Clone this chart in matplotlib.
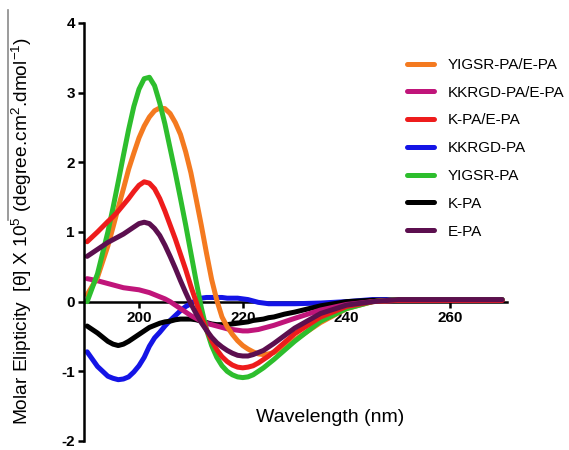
import matplotlib

matplotlib.use("Agg")
import matplotlib.pyplot as plt
from matplotlib.lines import Line2D

plt.rcParams["font.family"] = ["Liberation Sans", "DejaVu Sans"]
plt.rcParams["axes.unicode_minus"] = False
plt.rcParams["mathtext.fontset"] = "custom"
plt.rcParams["mathtext.rm"] = "Liberation Sans"
plt.rcParams["mathtext.it"] = "Liberation Sans:italic"

# --------------------------------------------------------------------------- #
# Datos (elipticidad molar x 10^5)
# --------------------------------------------------------------------------- #
wavelength = [190, 192, 194, 195, 196, 197, 198, 199, 200, 201, 202, 203, 204, 205,
              206, 207, 208, 209, 210, 211, 212, 213, 214, 215, 216, 217, 218, 219,
              220, 221, 222, 223, 224, 225, 226, 228, 230, 235, 240, 245, 250, 260, 270]

yigsr_epa = [0.10, 0.35, 0.80, 1.07, 1.35, 1.62, 1.90, 2.13, 2.35, 2.52, 2.65, 2.74, 2.78, 2.77,
             2.70, 2.57, 2.40, 2.15, 1.85, 1.48, 1.10, 0.70, 0.32, 0.02, -0.22, -0.36, -0.47, -0.56,
             -0.63, -0.68, -0.72, -0.75, -0.76, -0.75, -0.73, -0.65, -0.55, -0.30, -0.10, 0.00, 0.03, 0.03, 0.03]
kkrgd_epa = [0.33, 0.30, 0.26, 0.24, 0.22, 0.20, 0.19, 0.18, 0.17, 0.15, 0.13, 0.10, 0.07, 0.04,
             0.00, -0.05, -0.10, -0.15, -0.20, -0.24, -0.28, -0.31, -0.33, -0.35, -0.37, -0.39, -0.40, -0.41,
             -0.42, -0.42, -0.41, -0.40, -0.38, -0.36, -0.34, -0.29, -0.24, -0.12, -0.04, 0.00, 0.02, 0.02, 0.02]
kpa_epa = [0.86, 1.00, 1.15, 1.22, 1.30, 1.39, 1.48, 1.58, 1.67, 1.72, 1.70, 1.62, 1.48, 1.30,
           1.10, 0.90, 0.68, 0.46, 0.22, 0.00, -0.22, -0.40, -0.56, -0.69, -0.79, -0.86, -0.91, -0.94,
           -0.95, -0.94, -0.92, -0.88, -0.83, -0.78, -0.72, -0.59, -0.46, -0.22, -0.07, 0.00, 0.02, 0.02, 0.02]
kkrgd_pa = [-0.72, -0.93, -1.07, -1.10, -1.12, -1.11, -1.08, -1.01, -0.92, -0.80, -0.64, -0.52, -0.44, -0.35,
            -0.27, -0.20, -0.13, -0.07, -0.03, 0.02, 0.05, 0.06, 0.06, 0.06, 0.06, 0.05, 0.05, 0.05,
            0.04, 0.03, 0.01, -0.01, -0.02, -0.03, -0.03, -0.03, -0.03, -0.02, 0.00, 0.03, 0.03, 0.03, 0.03]
yigsr_pa = [0.00, 0.40, 1.00, 1.35, 1.72, 2.10, 2.47, 2.80, 3.05, 3.20, 3.22, 3.10, 2.85, 2.55,
            2.20, 1.85, 1.48, 1.10, 0.70, 0.30, -0.08, -0.40, -0.63, -0.80, -0.92, -1.00, -1.05, -1.08,
            -1.09, -1.08, -1.05, -1.00, -0.95, -0.89, -0.83, -0.70, -0.57, -0.28, -0.10, 0.00, 0.03, 0.03, 0.03]
k_pa = [-0.35, -0.45, -0.57, -0.61, -0.63, -0.61, -0.57, -0.52, -0.47, -0.42, -0.37, -0.34, -0.31, -0.29,
        -0.28, -0.26, -0.25, -0.25, -0.25, -0.26, -0.28, -0.30, -0.32, -0.33, -0.33, -0.33, -0.32, -0.31,
        -0.30, -0.29, -0.27, -0.26, -0.25, -0.23, -0.22, -0.18, -0.15, -0.06, 0.00, 0.02, 0.02, 0.02, 0.02]
e_pa = [0.65, 0.75, 0.85, 0.89, 0.93, 0.97, 1.02, 1.07, 1.12, 1.14, 1.12, 1.05, 0.95, 0.81,
        0.65, 0.48, 0.30, 0.13, -0.03, -0.17, -0.30, -0.41, -0.51, -0.59, -0.65, -0.70, -0.74, -0.77,
        -0.78, -0.78, -0.76, -0.73, -0.70, -0.65, -0.60, -0.49, -0.38, -0.17, -0.05, 0.00, 0.03, 0.03, 0.03]

etiquetas = ["YIGSR-PA/E-PA", "KKRGD-PA/E-PA", "K-PA/E-PA", "KKRGD-PA",
             "YIGSR-PA", "K-PA", "E-PA"]
series = [yigsr_epa, kkrgd_epa, kpa_epa, kkrgd_pa, yigsr_pa, k_pa, e_pa]
colores = ["#F47A20", "#C0157A", "#EE1C1C", "#1414E6", "#2DBE2D", "#000000", "#5C0F4F"]
# orden de dibujo (el último queda encima)
orden = [3, 5, 1, 0, 4, 2, 6]

# --------------------------------------------------------------------------- #
fig = plt.figure(figsize=(5.69, 4.5), dpi=100)
ax = fig.add_axes([84 / 569, 0.02, 0.744, 0.929])

handles = {}
for i in orden:
    (ln,) = ax.plot(wavelength, series[i], color=colores[i], lw=3.6,
                    solid_capstyle="round", solid_joinstyle="round",
                    label=etiquetas[i])
    handles[i] = ln

ax.set_xlim(189.4, 271)
ax.set_ylim(-2, 4)
ax.set_xticks([200, 220, 240, 260])
ax.set_yticks([-2, -1, 0, 1, 2, 3, 4])

for s in ["top", "right"]:
    ax.spines[s].set_visible(False)
ax.spines["bottom"].set_position(("data", 0))
ax.spines["bottom"].set_zorder(1)
for s in ["left", "bottom"]:
    ax.spines[s].set_linewidth(1.8)
ax.tick_params(width=1.8, length=4.5, labelsize=11, pad=2)
for lab in ax.get_xticklabels() + ax.get_yticklabels():
    lab.set_fontweight("bold")

ax.legend([handles[i] for i in range(7)], etiquetas, frameon=False,
          loc="upper left", bbox_to_anchor=(407 / 569, 1 - 58 / 450),
          bbox_transform=fig.transFigure, fontsize=11, handlelength=1.8,
          handletextpad=0.85, labelspacing=0.9, borderpad=0, borderaxespad=0)

fig.text(22 / 569, 0.486,
         "Molar Elipticity  [θ] X 10$^5$ (degree.cm$^2$.dmol$^{-1}$)",
         rotation=90, ha="center", va="center", fontsize=13.8)
fig.text(330 / 569, 1 - 418 / 450, "Wavelength (nm)",
         ha="center", va="center", fontsize=14)

# línea gris vertical del borde izquierdo
fig.add_artist(Line2D([8 / 569, 8 / 569], [1 - 10 / 450, 1 - 220 / 450],
                      transform=fig.transFigure, color="#8a8a8a", lw=1.2))

fig.savefig("out.png", dpi=100)
